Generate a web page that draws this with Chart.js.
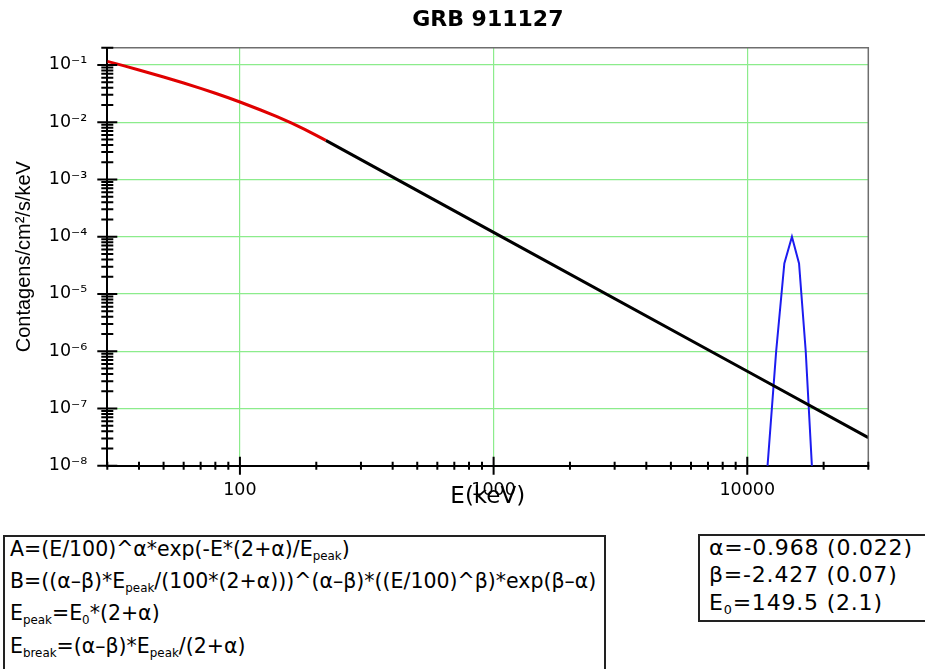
<!DOCTYPE html>
<html>
<head>
<meta charset="utf-8">
<script src="https://cdn.jsdelivr.net/npm/chart.js@4.4.1/dist/chart.umd.min.js"></script>
<style>
  html, body { margin: 0; padding: 0; background: #fff; width: 925px; height: 669px; overflow: hidden; }
  #wrap { position: relative; width: 925px; height: 669px; overflow: hidden; }
  #spectrum { position: absolute; left: 0; top: 0; }
  .box { position: absolute; border: 2px solid #222; background: #fff; color: #000;
         font-family: "DejaVu Sans", sans-serif; font-size: 20.5px; }
  .box .ln { position: absolute; white-space: nowrap; line-height: 24px; }
  .box sub { font-size: 0.58em; vertical-align: -0.32em; line-height: 0; }
  #formulas { left: 3px; top: 535px; width: 599px; height: 160px; }
  #formulas .ln { left: 5px; }
  #params { left: 698px; top: 534px; width: 240px; height: 84px; font-size: 22px; letter-spacing: 0.8px; }
  #params .ln { left: 9px; }
</style>
</head>
<body>
<div id="wrap">
  <canvas id="spectrum" width="955" height="669"></canvas>
  <div class="box" id="formulas">
    <div class="ln" style="top:0px">A=(E/100)^α*exp(-E*(2+α)/E<sub>peak</sub>)</div>
    <div class="ln" style="top:32px">B=((α–β)*E<sub>peak</sub>/(100*(2+α)))^(α–β)*((E/100)^β)*exp(β–α)</div>
    <div class="ln" style="top:64px">E<sub>peak</sub>=E<sub>0</sub>*(2+α)</div>
    <div class="ln" style="top:97px">E<sub>break</sub>=(α–β)*E<sub>peak</sub>/(2+α)</div>
  </div>
  <div class="box" id="params">
    <div class="ln" style="top:0px">α=-0.968 (0.022)</div>
    <div class="ln" style="top:27px">β=-2.427 (0.07)</div>
    <div class="ln" style="top:55px">E<sub>0</sub>=149.5 (2.1)</div>
  </div>
</div>
<script>
// Low-energy part of the Band fit (keV, photons/cm2/s/keV)
const lowEnergy = [30, 35, 40, 50, 60, 70, 80, 90, 100, 120, 140, 160, 180, 200, 218];
const lowFlux   = [0.1155, 0.0962, 0.0818, 0.0616, 0.0483, 0.0389, 0.0320, 0.0267, 0.0225,
                   0.0165, 0.0125, 0.0096, 0.0075, 0.0059, 0.0048];

// High-energy power-law part above E_break
const highEnergy = [218, 1000, 10000, 30000];
const highFlux   = [0.0048, 1.19e-4, 4.47e-7, 3.1e-8];

// Narrow line feature near 15 MeV
const lineEnergy = [12000, 13000, 14000, 15000, 16000, 17000, 18000];
const lineFlux   = [9e-9, 1.0e-6, 3.4e-5, 1.0e-4, 3.4e-5, 1.0e-6, 9e-9];

// Axis ticks and labels
const xMajorTicks  = [100, 1000, 10000];
const xMajorLabels = ['100', '1000', '10000'];
const yMajorTicks  = [1e-8, 1e-7, 1e-6, 1e-5, 1e-4, 1e-3, 1e-2, 1e-1];
const yMajorLabels = ['10⁻⁸', '10⁻⁷', '10⁻⁶', '10⁻⁵', '10⁻⁴', '10⁻³', '10⁻²', '10⁻¹'];

const X_MIN = 30, X_MAX = 30000, Y_MIN = 1e-8, Y_MAX = 0.2;
const GRID_GREEN = 'rgb(140,236,140)';

function isDecade(v) {
  const l = Math.log10(v);
  return Math.abs(l - Math.round(l)) < 1e-6;
}
function sameValue(a, b) { return Math.abs(Math.log10(a) - Math.log10(b)) < 1e-6; }

// minor/major tick positions for each decade of the log axes
function decadeTicks(lo, hi) {
  const out = [];
  for (let e = Math.floor(Math.log10(lo)); e <= Math.ceil(Math.log10(hi)); e++) {
    for (let m = 1; m <= 9; m++) {
      const v = Number((m * Math.pow(10, e)).toPrecision(6));
      if (v >= lo * 0.999999 && v <= hi * 1.000001) out.push(v);
    }
  }
  return out;
}
const xTickValues = decadeTicks(X_MIN, X_MAX);
const yTickValues = decadeTicks(Y_MIN, Y_MAX);

const toPoints = (xs, ys) => xs.map((x, i) => ({ x: x, y: ys[i] }));

// tick marks that cross the axis lines, plus the grey frame on top/right
const axisMarks = {
  id: 'axisMarks',
  afterDraw(chart) {
    const { ctx, chartArea: a, scales: { x, y } } = chart;
    ctx.save();
    ctx.strokeStyle = '#6e6e6e';
    ctx.lineWidth = 1.5;
    ctx.beginPath();
    ctx.moveTo(a.left, a.top);
    ctx.lineTo(a.right, a.top);
    ctx.lineTo(a.right, a.bottom);
    ctx.stroke();

    ctx.strokeStyle = '#000';
    ctx.lineWidth = 2;
    ctx.beginPath();
    x.ticks.forEach(t => {
      const px = x.getPixelForValue(t.value);
      const h = isDecade(t.value) ? 9 : 4;
      ctx.moveTo(px, a.bottom - h);
      ctx.lineTo(px, a.bottom + h);
    });
    y.ticks.forEach(t => {
      const py = y.getPixelForValue(t.value);
      const w = isDecade(t.value) ? 10 : 6;
      ctx.moveTo(a.left - w, py);
      ctx.lineTo(a.left + w, py);
    });
    ctx.stroke();
    ctx.restore();
  }
};

// plot frame in page pixels
const PLOT_LEFT = 107.3, PLOT_BOTTOM = 465.7, PLOT_RIGHT = 868.3;
const canvas = document.getElementById('spectrum');

new Chart(canvas, {
  type: 'line',
  data: {
    datasets: [
      { label: 'Band (E < E_break)', data: toPoints(lowEnergy, lowFlux),
        borderColor: '#e00000', borderWidth: 3, pointRadius: 0, tension: 0 },
      { label: 'Band (E > E_break)', data: toPoints(highEnergy, highFlux),
        borderColor: '#000000', borderWidth: 3, pointRadius: 0, tension: 0 },
      { label: 'Line', data: toPoints(lineEnergy, lineFlux),
        borderColor: '#1c1cf0', borderWidth: 2, pointRadius: 0, tension: 0 }
    ]
  },
  options: {
    responsive: false,
    animation: false,
    devicePixelRatio: 1,
    layout: { padding: { left: 0, top: 0, right: canvas.width - PLOT_RIGHT, bottom: 0 } },
    plugins: {
      legend: { display: false },
      tooltip: { enabled: false },
      title: {
        display: true,
        fullSize: false,
        text: 'GRB 911127',
        color: '#000',
        font: { family: 'DejaVu Sans', size: 22, weight: 'bold', lineHeight: 1.2 },
        padding: { top: 7.5, bottom: 13.8 }
      }
    },
    scales: {
      x: {
        type: 'logarithmic',
        min: X_MIN, max: X_MAX,
        afterBuildTicks: s => { s.ticks = xTickValues.map(v => ({ value: v })); },
        afterFit: s => { s.height = canvas.height - PLOT_BOTTOM; },
        grid: {
          color: c => (c.tick && isDecade(c.tick.value)) ? GRID_GREEN : 'rgba(0,0,0,0)',
          lineWidth: 1.2,
          drawTicks: false
        },
        border: { color: '#000', width: 2 },
        ticks: {
          autoSkip: false, maxRotation: 0, padding: 14, color: '#000',
          font: { family: 'DejaVu Sans', size: 17.5 },
          callback: v => {
            const i = xMajorTicks.findIndex(t => sameValue(t, v));
            return i >= 0 ? xMajorLabels[i] : '';
          }
        },
        title: {
          display: true, text: 'E(keV)', color: '#000',
          font: { family: 'DejaVu Sans', size: 23, lineHeight: 1.2 },
          padding: { top: 0, bottom: 158.2 }
        }
      },
      y: {
        type: 'logarithmic',
        min: Y_MIN, max: Y_MAX,
        afterBuildTicks: s => { s.ticks = yTickValues.map(v => ({ value: v })); },
        afterFit: s => { s.width = PLOT_LEFT; },
        grid: {
          color: c => (c.tick && isDecade(c.tick.value) && !sameValue(c.tick.value, Y_MIN)) ? GRID_GREEN : 'rgba(0,0,0,0)',
          lineWidth: 1.2,
          drawTicks: false
        },
        border: { color: '#000', width: 2 },
        ticks: {
          autoSkip: false, padding: 20, color: '#000',
          font: { family: 'DejaVu Sans', size: 17.5 },
          callback: v => {
            const i = yMajorTicks.findIndex(t => sameValue(t, v));
            return i >= 0 ? yMajorLabels[i] : '';
          }
        },
        title: {
          display: true, text: 'Contagens/cm²/s/keV', color: '#000',
          font: { family: 'Liberation Sans', size: 20, lineHeight: 1.2 },
          padding: { top: 12, bottom: 0 }
        }
      }
    }
  },
  plugins: [axisMarks]
});
</script>
</body>
</html>
